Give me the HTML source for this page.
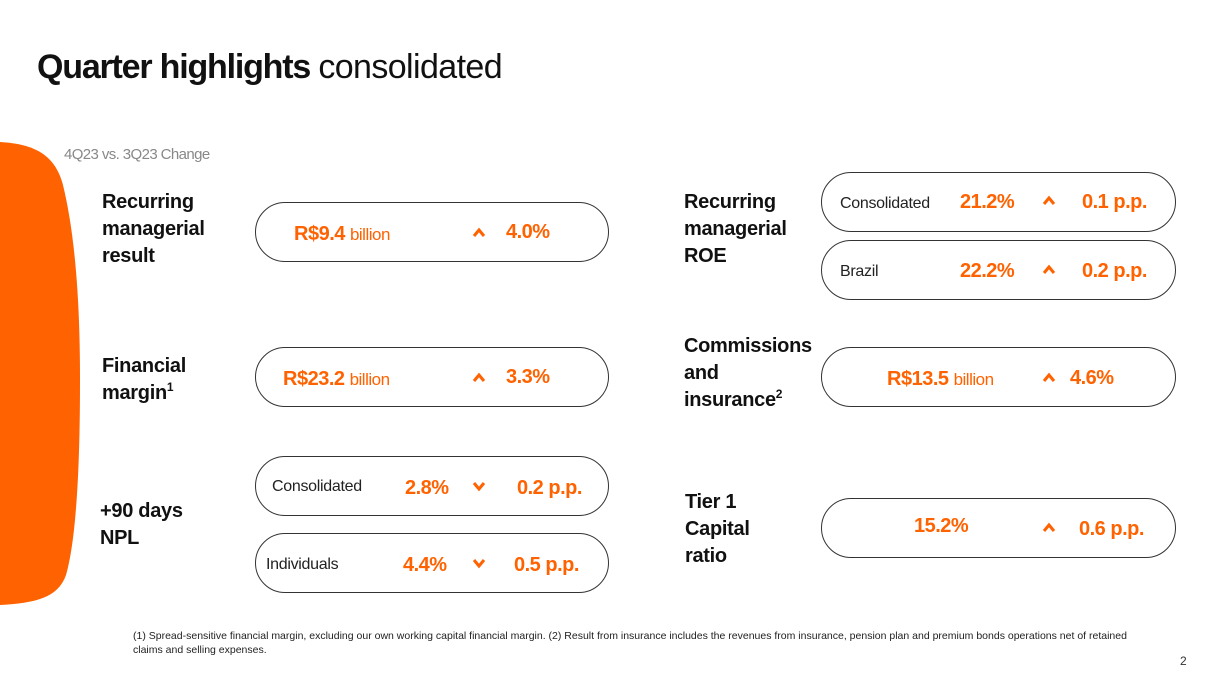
<!DOCTYPE html>
<html><head><meta charset="utf-8"><style>
body{margin:0;width:1218px;height:685px;background:#fff;position:relative;overflow:hidden;font-family:"Liberation Sans",sans-serif;}
.a{position:absolute;white-space:nowrap;}
.pill{position:absolute;border:1.5px solid #333;border-radius:31px;box-sizing:border-box;}
.lbl{position:absolute;font-weight:bold;font-size:20px;line-height:27px;color:#111;letter-spacing:-0.3px;}
.lbl sup{font-size:12px;line-height:0;vertical-align:8px;}
.o{color:#ff6200;font-weight:bold;font-size:20px;letter-spacing:-0.5px;}
.ob{color:#ff6200;font-size:17px;font-weight:normal;}
.sm{color:#222;font-size:16px;letter-spacing:-0.3px;}
</style></head><body>
<svg class="a" style="left:0;top:0" width="120" height="685"><path d="M0 142 C35 144 55 155 63 185 C75 235 80 300 80 380 C80 470 76 540 66 575 C58 598 35 603 0 605 Z" fill="#ff6200"/></svg>
<div class="a" style="left:37px;top:48px;font-size:34px;letter-spacing:-1.2px;color:#111"><b>Quarter highlights</b> <span style="letter-spacing:-0.6px">consolidated</span></div>
<div class="a" style="left:64px;top:146px;font-size:15px;color:#888;letter-spacing:-0.6px">4Q23 vs. 3Q23 Change</div>

<div class="lbl" style="left:102px;top:189px">Recurring<br>managerial<br>result</div>
<div class="lbl" style="left:102px;top:353px">Financial<br>margin<sup>1</sup></div>
<div class="lbl" style="left:100px;top:498px">+90 days<br>NPL</div>
<div class="lbl" style="left:684px;top:189px">Recurring<br>managerial<br>ROE</div>
<div class="lbl" style="left:684px;top:333px">Commissions<br>and<br>insurance<sup>2</sup></div>
<div class="lbl" style="left:685px;top:489px">Tier 1<br>Capital<br>ratio</div>

<svg width="0" height="0" style="position:absolute"><defs>
<symbol id="up" viewBox="0 0 14 10"><path d="M2 9 L7 3 L12 9" fill="none" stroke="#ff6200" stroke-width="3"/></symbol>
<symbol id="dn" viewBox="0 0 14 10"><path d="M2 1 L7 7 L12 1" fill="none" stroke="#ff6200" stroke-width="3"/></symbol>
</defs></svg>

<div class="pill" style="left:255px;top:202px;width:354px;height:60px">
<span class="a o" style="left:38px;top:20px">R$9.4 <span class="ob">billion</span></span><svg class="a" style="left:216px;top:24px" width="14" height="10"><use href="#up"/></svg><span class="a o" style="left:250px;top:18px">4.0%</span></div>
<div class="pill" style="left:255px;top:347px;width:354px;height:60px">
<span class="a o" style="left:27px;top:20px">R$23.2 <span class="ob">billion</span></span><svg class="a" style="left:216px;top:24px" width="14" height="10"><use href="#up"/></svg><span class="a o" style="left:250px;top:18px">3.3%</span></div>
<div class="pill" style="left:255px;top:456px;width:354px;height:60px">
<span class="a sm" style="left:16px;top:21px">Consolidated</span><span class="a o" style="left:149px;top:20px">2.8%</span><svg class="a" style="left:216px;top:25px" width="14" height="10"><use href="#dn"/></svg><span class="a o" style="left:261px;top:20px">0.2 p.p.</span></div>
<div class="pill" style="left:255px;top:533px;width:354px;height:60px">
<span class="a sm" style="left:10px;top:22px">Individuals</span><span class="a o" style="left:147px;top:20px">4.4%</span><svg class="a" style="left:216px;top:25px" width="14" height="10"><use href="#dn"/></svg><span class="a o" style="left:258px;top:20px">0.5 p.p.</span></div>

<div class="pill" style="left:821px;top:172px;width:355px;height:60px">
<span class="a sm" style="left:18px;top:22px">Consolidated</span><span class="a o" style="left:138px;top:18px">21.2%</span><svg class="a" style="left:220px;top:22px" width="14" height="10"><use href="#up"/></svg><span class="a o" style="left:260px;top:18px">0.1 p.p.</span></div>
<div class="pill" style="left:821px;top:240px;width:355px;height:60px">
<span class="a sm" style="left:18px;top:22px">Brazil</span><span class="a o" style="left:138px;top:19px">22.2%</span><svg class="a" style="left:220px;top:23px" width="14" height="10"><use href="#up"/></svg><span class="a o" style="left:260px;top:19px">0.2 p.p.</span></div>
<div class="pill" style="left:821px;top:347px;width:355px;height:60px">
<span class="a o" style="left:65px;top:20px">R$13.5 <span class="ob">billion</span></span><svg class="a" style="left:220px;top:24px" width="14" height="10"><use href="#up"/></svg><span class="a o" style="left:248px;top:19px">4.6%</span></div>
<div class="pill" style="left:821px;top:498px;width:355px;height:60px">
<span class="a o" style="left:92px;top:16px">15.2%</span><svg class="a" style="left:220px;top:23px" width="14" height="10"><use href="#up"/></svg><span class="a o" style="left:257px;top:19px">0.6 p.p.</span></div>

<div class="a" style="left:133px;top:629px;font-size:10.5px;line-height:14px;color:#222;white-space:normal;width:1020px">(1) Spread-sensitive financial margin, excluding our own working capital financial margin. (2) Result from insurance includes the revenues from insurance, pension plan and premium bonds operations net of retained claims and selling expenses.</div>
<div class="a" style="left:1180px;top:654px;font-size:12px;color:#333">2</div>
</body></html>
